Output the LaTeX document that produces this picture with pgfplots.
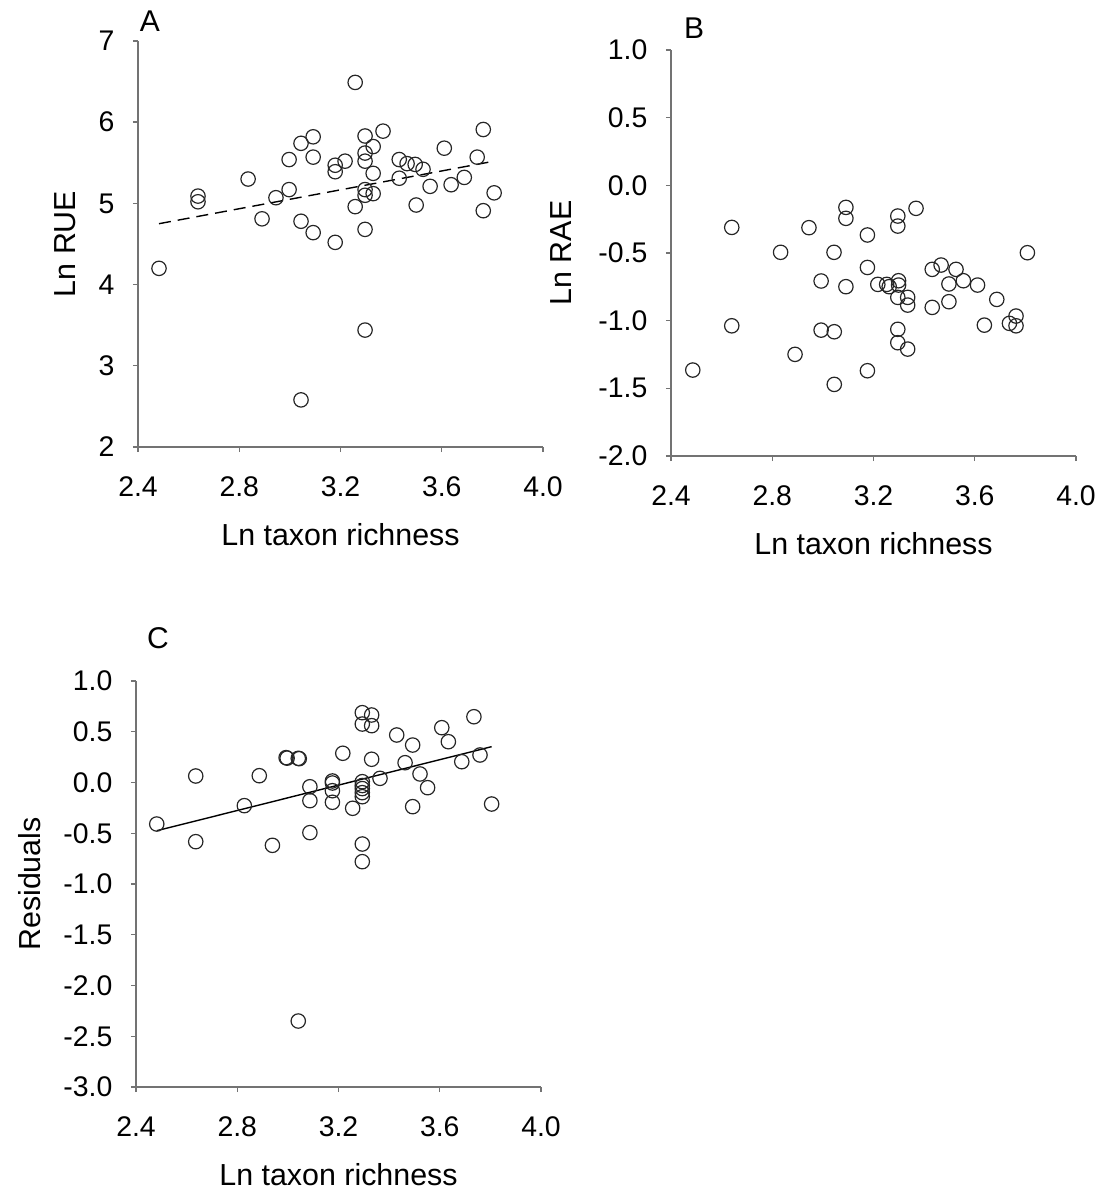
\documentclass[border=0pt]{standalone}
\usepackage{pgfplots}
\pgfplotsset{compat=1.18}
\usepackage{fontspec}
\setmainfont{Liberation Sans}
\begin{document}
\begin{tikzpicture}
\useasboundingbox (0pt,0pt) rectangle (551pt,597pt);
\pgfplotsset{
 panel/.style={
  anchor=south west, width=202.5pt, height=203pt, scale only axis,
  axis x line*=bottom, axis y line*=left,
  axis line style={-, draw=black!55, line width=0.7pt},
  tick align=outside, major tick length=2.6pt,
  tick style={draw=black!55, line width=0.7pt},
  xmin=2.4, xmax=4.0, xtick={2.4,2.8,3.2,3.6,4.0},
  xticklabels={2.4,2.8,3.2,3.6,4.0},
  tick label style={font=\fontsize{14.2}{16}\selectfont},
  xticklabel style={inner sep=0pt, anchor=north, yshift=-12pt},
  yticklabel style={inner sep=0pt, anchor=east, xshift=-9pt},
  label style={font=\fontsize{15.2}{17}\selectfont},
  xlabel={Ln taxon richness},
  xlabel style={at={(axis description cs:0.5,-0.217)}, anchor=center},
  clip=false,
 },
 pts/.style={only marks, mark=o, mark size=3.6pt, mark options={line width=0.6pt, draw=black!85}},
}
% ---------------- Panel A
\begin{axis}[panel, at={(69pt,373.5pt)}, ymin=2, ymax=7, ytick={2,3,4,5,6,7},
  yticklabels={2,3,4,5,6,7},
  ylabel={Ln RUE}, ylabel style={at={(axis description cs:-0.18,0.5)}, anchor=center}]
\addplot[pts] table {
2.483 4.20
2.637 5.02
2.637 5.09
2.835 5.30
2.890 4.81
2.945 5.07
2.997 5.54
2.997 5.17
3.044 5.74
3.044 4.78
3.044 2.58
3.092 5.82
3.092 5.57
3.092 4.64
3.179 5.47
3.179 5.39
3.179 4.52
3.218 5.52
3.258 6.49
3.258 4.96
3.297 5.83
3.297 5.62
3.297 5.52
3.297 5.17
3.297 5.10
3.297 4.68
3.297 3.44
3.329 5.70
3.329 5.37
3.329 5.12
3.368 5.89
3.432 5.54
3.432 5.31
3.463 5.49
3.495 5.48
3.499 4.98
3.526 5.42
3.554 5.21
3.610 5.68
3.637 5.23
3.689 5.32
3.740 5.57
3.764 5.91
3.764 4.91
3.807 5.13
};
\addplot[black, line width=0.7pt, dash pattern=on 6pt off 3.5pt] table {
2.483 4.75
3.807 5.52
};
\end{axis}
% ---------------- Panel B
\begin{axis}[panel, at={(335.5pt,369pt)}, ymin=-2, ymax=1, ytick={-2,-1.5,-1,-0.5,0,0.5,1},
  yticklabels={-2.0,-1.5,-1.0,-0.5,0.0,0.5,1.0},
  ylabel={Ln RAE}, ylabel style={at={(axis description cs:-0.272,0.5)}, anchor=center}]
\addplot[pts] table {
3.091 -0.163
3.091 -0.244
3.368 -0.170
3.296 -0.227
3.296 -0.301
2.640 -0.311
2.945 -0.313
3.176 -0.367
2.833 -0.495
3.044 -0.495
3.808 -0.498
3.176 -0.607
3.432 -0.621
3.467 -0.589
3.526 -0.621
2.993 -0.707
3.091 -0.749
3.217 -0.732
3.252 -0.732
3.262 -0.749
3.299 -0.705
3.299 -0.737
3.498 -0.729
3.555 -0.705
3.611 -0.737
3.296 -0.828
3.335 -0.828
3.335 -0.885
3.432 -0.902
3.498 -0.860
3.687 -0.843
3.763 -0.966
3.737 -1.020
3.763 -1.038
3.638 -1.033
2.640 -1.038
2.993 -1.070
3.045 -1.082
3.296 -1.064
3.296 -1.163
3.335 -1.210
2.890 -1.249
2.486 -1.365
3.176 -1.370
3.045 -1.471
};
\end{axis}
% ---------------- Panel C
\begin{axis}[panel, at={(68pt,53.5pt)}, ymin=-3, ymax=1,
  ytick={-3,-2.5,-2,-1.5,-1,-0.5,0,0.5,1},
  yticklabels={-3.0,-2.5,-2.0,-1.5,-1.0,-0.5,0.0,0.5,1.0},
  ylabel={Residuals}, ylabel style={at={(axis description cs:-0.262,0.5)}, anchor=center}]
\addplot[pts] table {
3.294 0.688
3.331 0.665
3.294 0.576
3.331 0.560
3.735 0.648
3.608 0.540
3.430 0.468
3.634 0.402
3.493 0.369
2.993 0.245
2.997 0.240
3.041 0.238
3.045 0.235
3.217 0.288
3.331 0.229
3.759 0.271
3.463 0.195
3.687 0.205
3.522 0.084
2.636 0.064
2.887 0.067
3.364 0.041
3.176 0.015
3.294 0.008
3.087 -0.042
3.552 -0.051
3.294 -0.030
3.294 -0.060
3.176 -0.081
3.294 -0.100
3.294 -0.140
3.087 -0.179
3.176 -0.195
2.828 -0.228
3.805 -0.212
3.256 -0.254
3.493 -0.238
2.482 -0.409
3.087 -0.494
2.636 -0.583
2.939 -0.619
3.294 -0.606
3.294 -0.780
3.041 -2.350
3.176 -0.005
};
\addplot[black, line width=0.7pt] table {
2.482 -0.475
3.805 0.353
};
\end{axis}
\node[font=\fontsize{15}{17}\selectfont] at (75pt,586.5pt) {A};
\node[font=\fontsize{15}{17}\selectfont] at (347pt,583pt) {B};
\node[font=\fontsize{15}{17}\selectfont] at (79pt,278pt) {C};
\end{tikzpicture}
\end{document}
